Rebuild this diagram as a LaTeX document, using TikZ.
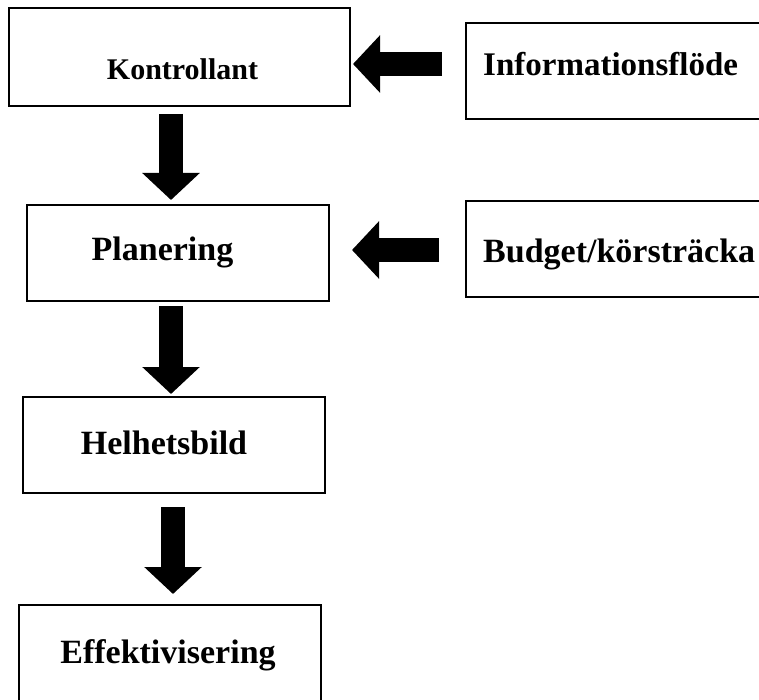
\documentclass[tikz,border=0pt]{standalone}
\usepackage{fontspec}
\setmainfont{Liberation Serif}
\usetikzlibrary{arrows.meta}
\begin{document}
\begin{tikzpicture}[x=1pt,y=-1pt,
  box/.style={draw=black, line width=1.3pt, rectangle, inner sep=0pt},
  txt/.style={inner sep=0pt, font=\bfseries\fontsize{34}{40}\selectfont},
  blockarrow/.style={line width=24pt, -{Triangle[width=56pt,length=27pt]}}]
\useasboundingbox (0,0) rectangle (759,700);
\clip (0,0) rectangle (759,700);
\fill[white] (0,0) rectangle (759,700);
% boxes
\node[box, minimum width=341pt, minimum height=98pt] (kon) at (179.5,57) {};
\node[box, minimum width=302pt, minimum height=96pt] (pla) at (178,253) {};
\node[box, minimum width=302pt, minimum height=96pt] (hel) at (174,445) {};
\node[box, minimum width=302pt, minimum height=195pt] (eff) at (170,702.5) {};
\node[box, minimum width=434pt, minimum height=96pt] (inf) at (683,71) {};
\node[box, minimum width=434pt, minimum height=96pt] (bud) at (683,249) {};
% texts
\node[txt, font=\bfseries\fontsize{30}{36}\selectfont, anchor=base] (tkon) at (182.5,80) {Kontrollant};
\node[txt, anchor=base] (tpla) at (162.5,261) {Planering};
\node[txt, anchor=base] (thel) at (164,454) {Helhetsbild};
\node[txt, anchor=base] (teff) at (168,663) {Effektivisering};
\node[txt, font=\bfseries\fontsize{33}{40}\selectfont, anchor=base west] (tinf) at (483,76) {Informationsflöde};
\node[txt, anchor=base west] (tbud) at (483,262) {Budget/körsträcka};
% arrow end points
\coordinate (a1s) at (171,114);
\coordinate (a1e) at (171,200);
\coordinate (a2s) at (171,306);
\coordinate (a2e) at (171,394);
\coordinate (a3s) at (173,507);
\coordinate (a3e) at (173,594);
\coordinate (a4s) at (442,64);
\coordinate (a4e) at (353,64);
\coordinate (a5s) at (439,250);
\coordinate (a5e) at (352,250);
% arrows
\draw[blockarrow] (a1s) -- (a1e);
\draw[blockarrow] (a2s) -- (a2e);
\draw[blockarrow] (a3s) -- (a3e);
\draw[blockarrow] (a4s) -- (a4e);
\draw[blockarrow] (a5s) -- (a5e);
\end{tikzpicture}
\end{document}
